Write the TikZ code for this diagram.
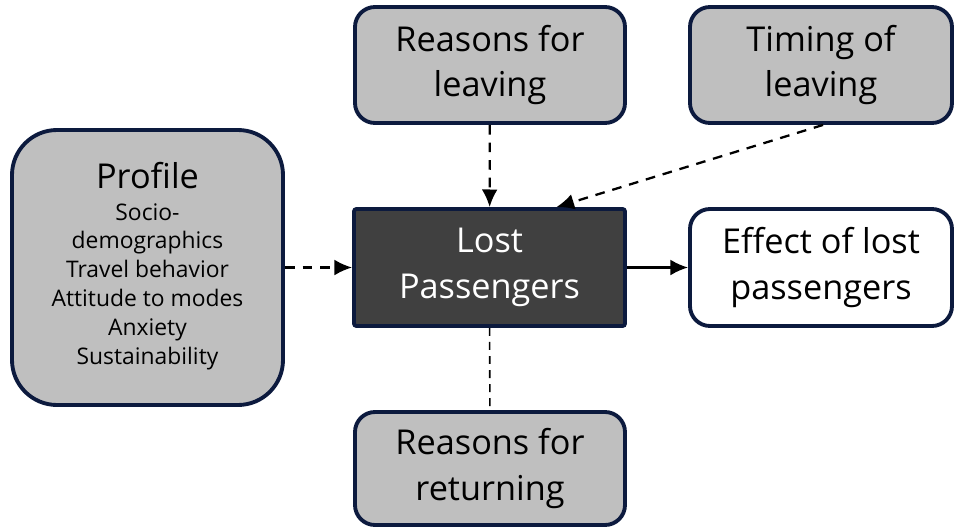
\documentclass[tikz,border=0pt]{standalone}
\usepackage{fontspec}
\setmainfont{Open Sans}
\usetikzlibrary{arrows.meta}

\definecolor{boxgray}{HTML}{BFBFBF}
\definecolor{boxdark}{HTML}{404040}
\definecolor{boxline}{HTML}{0C1A3E}

\begin{document}
\begin{tikzpicture}[>={Latex[length=10pt,width=9pt]},
	factor/.style={draw=boxline, line width=2.2pt, fill=boxgray, rounded corners=0.4cm,
		align=center, inner sep=0pt, font=\fontsize{19.5}{26}\selectfont},
	link/.style={line width=1.3pt, dash pattern=on 5.5pt off 4.5pt}]
	\useasboundingbox (0,0) rectangle (19.1,-10.56);
	% \draw [help lines] (0,0) grid (19.1,-10.56);
	\node [factor, minimum width=5.4cm, minimum height=2.32cm] (leave) at (9.8,-1.3) {Reasons for\\leaving};
	\node [factor, minimum width=5.24cm, minimum height=2.32cm] (timing) at (16.42,-1.3) {Timing of\\leaving};
	\node [factor, minimum width=5.42cm, minimum height=5.5cm, rounded corners=0.9cm] (profile) at (2.95,-5.35)
		{Profile\\[-8pt]{\fontsize{13}{16.4}\selectfont\begin{tabular}[t]{@{}c@{}}Socio-\\demographics\\Travel behavior\\Attitude to modes\\Anxiety\\Sustainability\end{tabular}}};
	\node [factor, fill=boxdark, text=white, rounded corners=0.05cm, minimum width=5.42cm, minimum height=2.34cm] (lost) at (9.79,-5.35) {Lost\\Passengers};
	\node [factor, fill=white, minimum width=5.24cm, minimum height=2.34cm] (effect) at (16.42,-5.35) {Effect of lost\\passengers};
	\node [factor, minimum width=5.4cm, minimum height=2.26cm] (return) at (9.8,-9.37) {Reasons for\\returning};
	\draw [link, ->] (leave) -- (lost);
	\draw [link, ->] ([xshift=0.04cm]timing.south) -- ([xshift=1.34cm]lost.north);
	\draw [link, ->] (profile) -- (lost);
	\draw [line width=1.3pt, ->] (lost) -- (effect);
	\draw [line width=0.9pt, dash pattern=on 4.5pt off 3.5pt] (lost) -- (return);
\end{tikzpicture}
\end{document}
